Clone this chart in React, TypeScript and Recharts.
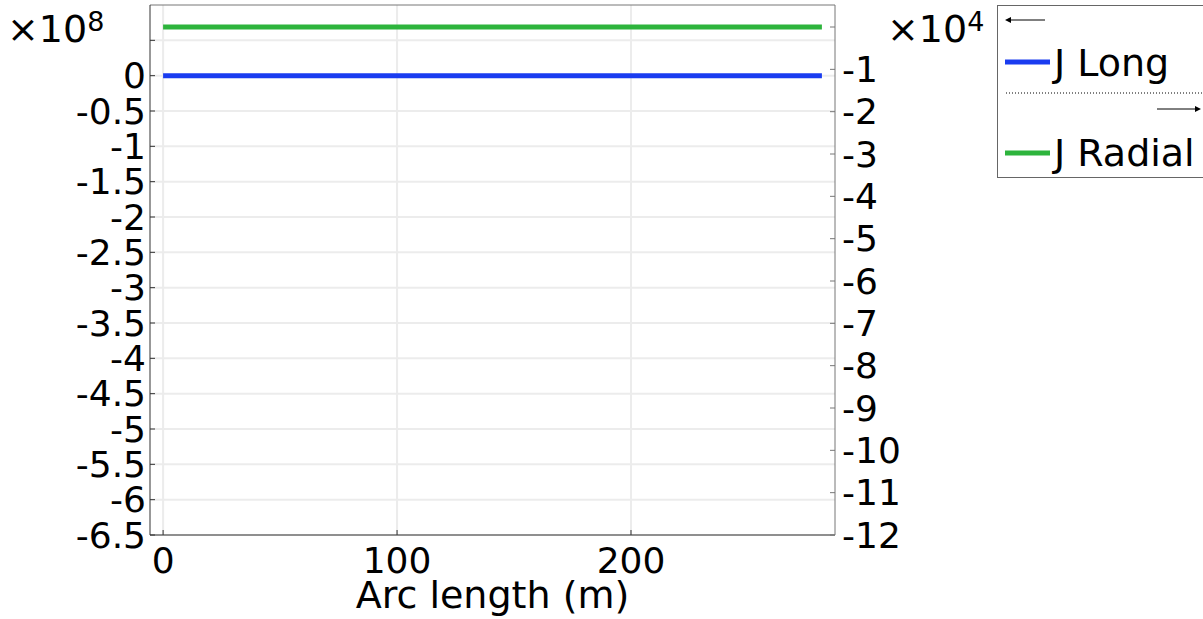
import { LineChart, Line, XAxis, YAxis, CartesianGrid } from "recharts";

const arcLength = [0, 50, 100, 150, 200, 250, 281.6];
const jLong = [0, 0, 0, 0, 0, 0, 0];
const jRadial = [0, 0, 0, 0, 0, 0, 0];

const xTicks = [0, 100, 200];
const leftTicks = [-6.5, -6, -5.5, -5, -4.5, -4, -3.5, -3, -2.5, -2, -1.5, -1, -0.5, 0, 0.5];
const rightTicks = [-12, -11, -10, -9, -8, -7, -6, -5, -4, -3, -2, -1, 0];

const data = arcLength.map((s, i) => ({ s, long: jLong[i], radial: jRadial[i] }));

const FONT = "'DejaVu Sans', sans-serif";
const tickStyle = { fontSize: 36, fill: "#000", fontFamily: FONT };

function Legend() {
  return (
    <svg
      width={206}
      height={173}
      style={{ position: "absolute", left: 997, top: 5 }}
    >
      <rect x={0.5} y={0.5} width={210} height={172} fill="#fff" stroke="#666" />
      <line x1={10} y1={15} x2={48} y2={15} stroke="#000" strokeWidth={1} />
      <path d="M8,15 L14,12 L14,18 Z" fill="#000" />
      <line x1={8} y1={57} x2={53} y2={57} stroke="#1a3cf0" strokeWidth={5} />
      <text x={57} y={71} fontSize={38} fontFamily={FONT}>J Long</text>
      <line x1={9} y1={88} x2={206} y2={88} stroke="#000" strokeWidth={1} strokeDasharray="1 2" />
      <line x1={160} y1={104} x2={200} y2={104} stroke="#000" strokeWidth={1} />
      <path d="M204,104 L198,101 L198,107 Z" fill="#000" />
      <line x1={8} y1={148} x2={53} y2={148} stroke="#2db43c" strokeWidth={5} />
      <text x={57} y={161} fontSize={38} fontFamily={FONT}>J Radial</text>
    </svg>
  );
}

export default function App() {
  return (
    <div style={{ position: "absolute", left: 0, top: 0, width: 1203, height: 619, background: "#fff" }}>
      <LineChart width={1203} height={619} data={data} margin={{ top: 0, right: 0, left: 0, bottom: 0 }}>
        <CartesianGrid
          xAxisId="bottom"
          yAxisId="left"
          stroke="#ececec"
          strokeWidth={2}
          horizontalValues={leftTicks}
          verticalValues={xTicks}
        />
        <XAxis
          xAxisId="bottom"
          dataKey="s"
          type="number"
          domain={[-5.6, 287.2]}
          ticks={xTicks}
          interval={0}
          allowDataOverflow
          height={84}
          tickSize={-5}
          tickMargin={17}
          stroke="#333"
          tick={tickStyle}
          label={{ value: "Arc length (m)", position: "insideBottom", offset: 11, fontSize: 38, fill: "#000", fontFamily: FONT }}
        />
        <XAxis
          xAxisId="top"
          orientation="top"
          dataKey="s"
          type="number"
          domain={[-5.6, 287.2]}
          ticks={xTicks}
          interval={0}
          allowDataOverflow
          height={5}
          tickSize={-5}
          tick={false}
          stroke="#777"
        />
        <YAxis
          yAxisId="left"
          type="number"
          domain={[-6.5, 1]}
          ticks={leftTicks}
          interval={0}
          allowDataOverflow
          width={150}
          tickSize={-5}
          tickMargin={9}
          stroke="#333"
          tick={tickStyle}
          tickFormatter={(v: number) => (v === 0.5 ? "" : String(v))}
        />
        <YAxis
          yAxisId="right"
          orientation="right"
          type="number"
          domain={[-12, 0.52]}
          ticks={rightTicks}
          interval={0}
          allowDataOverflow
          width={368}
          tickSize={-5}
          tickMargin={12}
          stroke="#777"
          tick={tickStyle}
          tickFormatter={(v: number) => (v === 0 ? "" : String(v))}
        />
        <Line
          xAxisId="bottom"
          yAxisId="left"
          dataKey="long"
          stroke="#1a3cf0"
          strokeWidth={5}
          dot={false}
          isAnimationActive={false}
        />
        <Line
          xAxisId="bottom"
          yAxisId="right"
          dataKey="radial"
          stroke="#2db43c"
          strokeWidth={5}
          dot={false}
          isAnimationActive={false}
        />
      </LineChart>
      <div style={{ position: "absolute", left: 7, top: 1, fontFamily: FONT, fontSize: 38, lineHeight: "42px", whiteSpace: "nowrap" }}>
        ×10<sup style={{ fontSize: 27, verticalAlign: "11px" }}>8</sup>
      </div>
      <div style={{ position: "absolute", left: 887, top: 1, fontFamily: FONT, fontSize: 38, lineHeight: "42px", whiteSpace: "nowrap" }}>
        ×10<sup style={{ fontSize: 27, verticalAlign: "11px" }}>4</sup>
      </div>
      <Legend />
    </div>
  );
}
